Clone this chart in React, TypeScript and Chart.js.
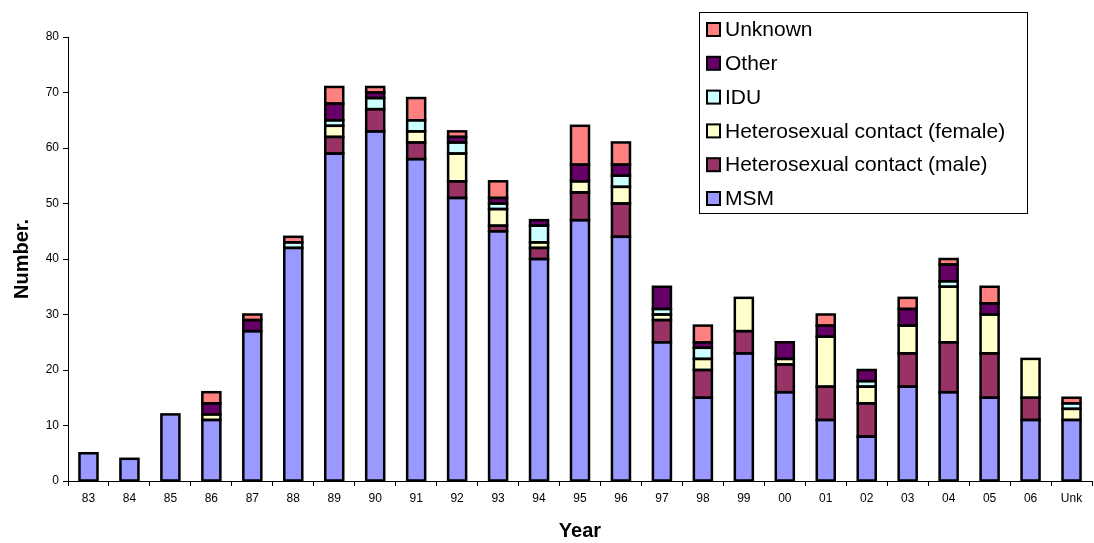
import React, { useEffect, useRef } from "react";
import { Chart, registerables } from "chart.js";
Chart.register(...registerables);

const categories = ["83", "84", "85", "86", "87", "88", "89", "90", "91", "92", "93", "94", "95", "96", "97", "98", "99", "00", "01", "02", "03", "04", "05", "06", "Unk"];
const msm = [5, 4, 12, 11, 27, 42, 59, 63, 58, 51, 45, 40, 47, 44, 25, 15, 23, 16, 11, 8, 17, 16, 15, 11, 11];
const hetMale = [0, 0, 0, 0, 0, 0, 3, 4, 3, 3, 1, 2, 5, 6, 4, 5, 4, 5, 6, 6, 6, 9, 8, 4, 0];
const hetFemale = [0, 0, 0, 1, 0, 0, 2, 0, 2, 5, 3, 1, 2, 3, 1, 2, 6, 1, 9, 3, 5, 10, 7, 7, 2];
const idu = [0, 0, 0, 0, 0, 1, 1, 2, 2, 2, 1, 3, 0, 2, 1, 2, 0, 0, 0, 1, 0, 1, 0, 0, 1];
const other = [0, 0, 0, 2, 2, 0, 3, 1, 0, 1, 1, 1, 3, 2, 4, 1, 0, 3, 2, 2, 3, 3, 2, 0, 0];
const unknown = [0, 0, 0, 2, 1, 1, 3, 1, 4, 1, 3, 0, 7, 4, 0, 3, 0, 0, 2, 0, 2, 1, 3, 0, 1];
const yTicks = [0, 10, 20, 30, 40, 50, 60, 70, 80];

const seriesNames = ["MSM", "Heterosexual contact (male)", "Heterosexual contact (female)", "IDU", "Other", "Unknown"];
const seriesColors = ["#9999FF", "#993366", "#FFFFCC", "#CCFFFF", "#660066", "#FF8080"];
const seriesData = [msm, hetMale, hetFemale, idu, other, unknown];

const FONT = "'Liberation Sans', Arial, sans-serif";
const NARROW = "'Liberation Sans Narrow', 'Liberation Sans', Arial, sans-serif";

// Excel-style outlines centred on each segment's edges, taken from the bar elements
const outlinePlugin = {
  id: "barOutlines",
  afterDatasetsDraw(chart: any) {
    const ctx = chart.ctx;
    ctx.save();
    ctx.strokeStyle = "#000";
    ctx.lineWidth = 2.5;
    chart.data.datasets.forEach((d: any, di: number) => {
      const meta = chart.getDatasetMeta(di);
      meta.data.forEach((el: any, i: number) => {
        if (!d.data[i]) return;
        const { x, y, base, width } = el.getProps(["x", "y", "base", "width"], true);
        ctx.strokeRect(x - width / 2, y, width, base - y);
      });
    });
    ctx.restore();
  },
};

const legendPlugin = {
  id: "boxLegend",
  afterDraw(chart: any) {
    const ctx = chart.ctx;
    const x0 = 699.5, y0 = 12.5, w = 328, h = 201;
    ctx.save();
    ctx.fillStyle = "#fff";
    ctx.fillRect(x0, y0, w, h);
    ctx.strokeStyle = "#000";
    ctx.lineWidth = 1;
    ctx.strokeRect(x0, y0, w, h);
    const ds = chart.data.datasets;
    ctx.font = "21px " + FONT;
    ctx.textBaseline = "middle";
    for (let i = 0; i < ds.length; i++) {
      const d = ds[ds.length - 1 - i];
      const cy = 29.5 + i * 33.8;
      ctx.fillStyle = d.backgroundColor;
      ctx.fillRect(707, cy - 6.5, 13, 13);
      ctx.lineWidth = 2;
      ctx.strokeStyle = "#000";
      ctx.strokeRect(707, cy - 6.5, 13, 13);
      ctx.fillStyle = "#000";
      ctx.fillText(d.label, 725, cy + 1);
    }
    ctx.restore();
  },
};

export default function App() {
  const ref = useRef<HTMLCanvasElement>(null);
  useEffect(() => {
    if (!ref.current) return;
    const chart = new Chart(ref.current, {
      type: "bar",
      data: {
        labels: categories,
        datasets: seriesNames.map((name, i) => ({
          label: name,
          data: seriesData[i],
          backgroundColor: seriesColors[i],
          borderWidth: 0,
          barPercentage: 0.44,
          categoryPercentage: 1,
        })),
      },
      options: {
        animation: false,
        responsive: true,
        maintainAspectRatio: false,
        layout: { padding: { left: 0, right: 2, top: 37, bottom: 0 } },
        plugins: { legend: { display: false }, tooltip: { enabled: false } },
        scales: {
          x: {
            stacked: true,
            afterFit: (s: any) => { s.height = 62; },
            grid: { drawOnChartArea: false, drawTicks: true, tickLength: 5, color: "#000", offset: true },
            border: { color: "#000", width: 1 },
            ticks: { color: "#000", font: { family: NARROW, size: 12 }, padding: 5, maxRotation: 0, autoSkip: false },
            title: { display: true, text: "Year", color: "#000", font: { family: FONT, size: 20, weight: "bold" }, padding: { top: 1, bottom: 0 } },
          },
          y: {
            stacked: true,
            min: 0,
            max: 80,
            afterFit: (s: any) => { s.width = 68; },
            afterBuildTicks: (s: any) => { s.ticks = yTicks.map((v) => ({ value: v })); },
            grid: { drawOnChartArea: false, drawTicks: true, tickLength: 5, color: "#000" },
            border: { color: "#000", width: 1 },
            ticks: { color: "#000", font: { family: FONT, size: 12 }, padding: 4 },
            title: { display: true, text: "Number.", color: "#000", font: { family: FONT, size: 20, weight: "bold" }, padding: { top: 10, bottom: 0 } },
          },
        },
      },
      plugins: [outlinePlugin, legendPlugin],
    });
    return () => chart.destroy();
  }, []);
  return (
    <div style={{ position: "fixed", left: 0, top: 0, width: 1094, height: 543, background: "#fff" }}>
      <canvas ref={ref} />
    </div>
  );
}
